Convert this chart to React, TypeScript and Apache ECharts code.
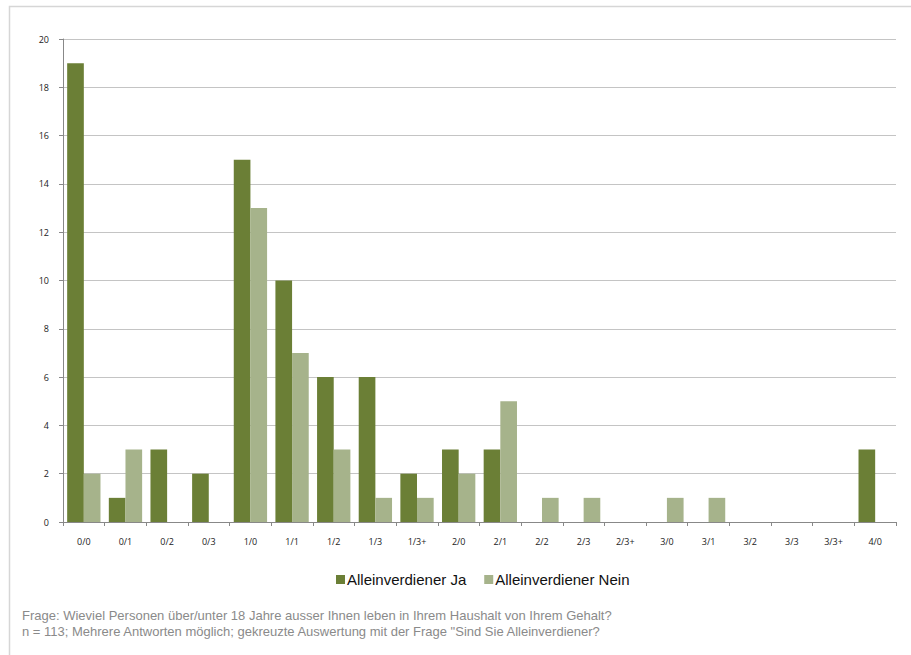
import React, { useEffect, useRef } from "react";
import * as echarts from "echarts";

const categories = ["0/0", "0/1", "0/2", "0/3", "1/0", "1/1", "1/2", "1/3", "1/3+", "2/0", "2/1", "2/2", "2/3", "2/3+", "3/0", "3/1", "3/2", "3/3", "3/3+", "4/0"];
const seriesJa = [19, 1, 3, 2, 15, 10, 6, 6, 2, 3, 3, 0, 0, 0, 0, 0, 0, 0, 0, 3];
const seriesNein = [2, 3, 0, 0, 13, 7, 3, 1, 1, 2, 5, 1, 1, 0, 1, 1, 0, 0, 0, 0];
const seriesNames = ["Alleinverdiener Ja", "Alleinverdiener Nein"];
const footerLines = [
  "Frage: Wieviel Personen über/unter 18 Jahre ausser Ihnen leben in Ihrem Haushalt von Ihrem Gehalt?",
  "n = 113; Mehrere Antworten möglich; gekreuzte Auswertung mit der Frage \"Sind Sie Alleinverdiener?",
];

export default function App() {
  const ref = useRef<HTMLDivElement>(null);
  useEffect(() => {
    document.body.style.margin = "0";
    const chart = echarts.init(ref.current!, null, { renderer: "svg" });
    const labelFont = "'Open Sans', 'DejaVu Sans', sans-serif";
    const narrow = "'Liberation Sans', Arial, sans-serif";
    chart.setOption({
      animation: false,
      backgroundColor: "#ffffff",
      color: ["#6B7F36", "#A6B38B"],
      grid: { left: 63, right: 15, top: 39, bottom: 133, containLabel: false },
      legend: {
        data: seriesNames,
        left: 331,
        top: 567,
        itemWidth: 9,
        itemHeight: 9,
        itemGap: 18,
        icon: "rect",
        textStyle: { fontFamily: narrow, fontSize: 15, color: "#111", padding: [0, 0, 0, -3] },
      },
      xAxis: {
        type: "category",
        data: categories,
        axisLine: { lineStyle: { color: "#888", width: 1 } },
        axisTick: { show: true, length: 4, lineStyle: { color: "#888" } },
        axisLabel: { fontFamily: labelFont, fontSize: 9, color: "#222", margin: 15, interval: 0 },
      },
      yAxis: {
        type: "value",
        min: 0,
        max: 20,
        interval: 2,
        axisLine: { show: true, lineStyle: { color: "#888", width: 1 } },
        axisTick: { show: true, length: 4, lineStyle: { color: "#888" } },
        axisLabel: { fontFamily: labelFont, fontSize: 9, color: "#222", margin: 14 },
        splitLine: { lineStyle: { color: "#c4c4c4", width: 1 } },
      },
      series: [
        { name: seriesNames[0], type: "bar", data: seriesJa, barGap: "0%", barCategoryGap: "20%" },
        { name: seriesNames[1], type: "bar", data: seriesNein, barGap: "0%", barCategoryGap: "20%" },
      ],
      graphic: [
        {
          type: "rect",
          shape: { x: 9.5, y: 6.5, width: 930, height: 700 },
          style: { fill: "none", stroke: "#d6d6d6", lineWidth: 1.5 },
          silent: true,
        },
        {
          type: "text",
          left: 22,
          top: 607,
          style: {
            text: footerLines.join("\n"),
            fontFamily: narrow,
            fontSize: 13,
            lineHeight: 16,
            fill: "#8a8a8a",
          },
        },
      ],
    });
    return () => chart.dispose();
  }, []);
  return <div ref={ref} style={{ width: 911, height: 655 }} />;
}
